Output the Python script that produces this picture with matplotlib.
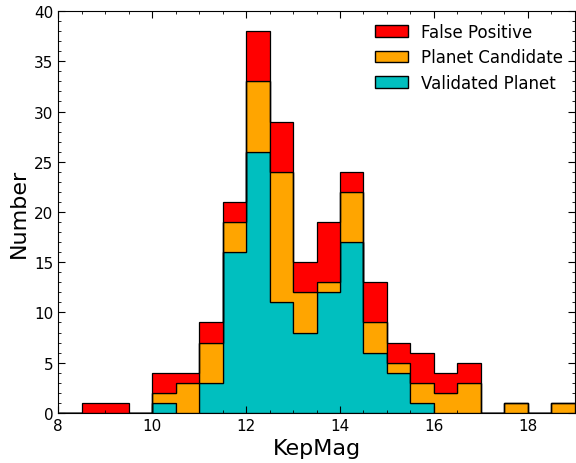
import numpy as np
from matplotlib import pyplot as plt
from matplotlib.patches import Patch

# bin edges of KepMag (width 0.5)
edges = np.arange(8.0, 19.01, 0.5)
# counts per bin, 8.0 .. 19.0
validated = [0, 0, 0, 0, 1, 0, 3, 16, 26, 11, 8, 12, 17, 6, 4, 1, 0, 0, 0, 0, 0, 0]
candidate = [0, 0, 0, 0, 1, 3, 4, 3, 7, 13, 4, 1, 5, 3, 1, 2, 2, 3, 0, 1, 0, 1]
false_pos = [0, 1, 1, 0, 2, 1, 2, 2, 5, 5, 3, 6, 2, 4, 2, 3, 2, 2, 0, 0, 0, 0]

labels = ["Validated Planet", "Planet Candidate", "False Positive"]
colors = [(0, 0.75, 0.75), "orange", "red"]

fig = plt.figure(figsize=(5.76, 4.64), dpi=100)
ax = fig.add_axes([0.101, 0.108, 0.897, 0.866])

bottom = np.zeros(len(edges) - 1)
for vals, col in zip([validated, candidate, false_pos], colors):
    top = bottom + np.array(vals)
    ax.stairs(top, edges, baseline=bottom, fill=True, facecolor=col,
              edgecolor="black", linewidth=0.9)
    bottom = top

ax.set_xlim(8, 19)
ax.set_ylim(0, 40)
ax.set_xticks(np.arange(8, 19, 2))
ax.set_xticks(np.arange(8, 19.01, 0.5), minor=True)
ax.set_yticks(np.arange(0, 41, 5))
ax.set_yticks(np.arange(0, 41, 1), minor=True)
ax.tick_params(which="both", direction="in", top=True, right=True, labelsize=11)
ax.tick_params(which="major", length=5)
ax.tick_params(which="minor", length=2.5)
ax.set_xlabel("KepMag", fontsize=16)
ax.set_ylabel("Number", fontsize=16)

handles = [Patch(facecolor=c, edgecolor="black") for c in colors][::-1]
ax.legend(handles, labels[::-1], loc="upper right", frameon=False, fontsize=12,
          labelspacing=0.45, borderaxespad=0.3)

fig.savefig("out.png", dpi=100)
